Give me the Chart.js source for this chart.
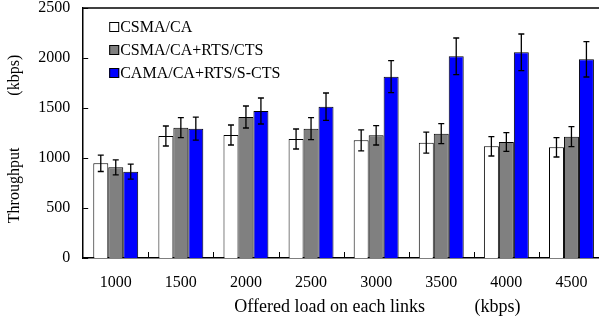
<!DOCTYPE html>
<html>
<head>
<meta charset="utf-8">
<script src="https://cdn.jsdelivr.net/npm/chart.js@4.4.0/dist/chart.umd.min.js"></script>
<style>
    html, body { margin: 0; padding: 0; background: #fff; overflow: hidden; }
    #wrap { width: 604px; height: 320px; }
</style>
</head>
<body>
<div id="wrap"><canvas id="throughputChart"></canvas></div>
<script>
// Offered load (kbps)
const loads = ["1000", "1500", "2000", "2500", "3000", "3500", "4000", "4500"];

// Throughput (kbps) for each scheme
const csma = [947, 1220, 1230, 1190, 1177, 1153, 1117, 1107];
const csmaRts = [907, 1303, 1410, 1293, 1227, 1243, 1160, 1213];
const camaSCts = [863, 1293, 1470, 1513, 1813, 2017, 2057, 1987];

// Error bar half-heights
const csmaErr = [82, 100, 100, 100, 105, 105, 97, 97];
const csmaRtsErr = [75, 100, 110, 110, 97, 100, 93, 100];
const camaSCtsErr = [75, 115, 130, 137, 160, 183, 183, 177];

const yTicks = [0, 500, 1000, 1500, 2000, 2500];

const serif = "'Liberation Serif', 'Times New Roman', serif";

// Error bars, inner tick marks, top frame line, legend
const extrasPlugin = {
    id: "extras",
    afterDatasetsDraw(chart) {
        const ctx = chart.ctx;
        const area = chart.chartArea;
        const xs = chart.scales.x;
        const ys = chart.scales.y;

        ctx.save();
        ctx.strokeStyle = "#000";

        // error bars
        ctx.lineWidth = 1.3;
        chart.data.datasets.forEach((ds, i) => {
            const meta = chart.getDatasetMeta(i);
            meta.data.forEach((bar, j) => {
                const v = ds.data[j];
                const e = ds.errors[j];
                const top = ys.getPixelForValue(v + e);
                const bot = ys.getPixelForValue(v - e);
                ctx.beginPath();
                ctx.moveTo(bar.x, top);
                ctx.lineTo(bar.x, bot);
                ctx.moveTo(bar.x - 3, top);
                ctx.lineTo(bar.x + 3, top);
                ctx.moveTo(bar.x - 3, bot);
                ctx.lineTo(bar.x + 3, bot);
                ctx.stroke();
            });
        });

        // frame line on top
        ctx.lineWidth = 1.5;
        ctx.beginPath();
        ctx.moveTo(area.left, area.top);
        ctx.lineTo(area.right + 5, area.top);
        ctx.stroke();

        // inner ticks
        ctx.lineWidth = 1;
        yTicks.forEach(t => {
            const y = Math.round(ys.getPixelForValue(t)) + 0.5;
            ctx.beginPath();
            ctx.moveTo(area.left, y);
            ctx.lineTo(area.left + 5, y);
            ctx.stroke();
        });
        for (let i = 0; i < loads.length - 1; i++) {
            const x = Math.round((xs.getPixelForValue(i) + xs.getPixelForValue(i + 1)) / 2) + 0.5;
            ctx.beginPath();
            ctx.moveTo(x, area.bottom);
            ctx.lineTo(x, area.bottom - 6);
            ctx.stroke();
        }

        // legend
        ctx.font = "16px " + serif;
        ctx.textBaseline = "middle";
        chart.data.datasets.forEach((ds, i) => {
            const bx = area.left + 26;
            const cy = area.top + 19 + i * 23;
            ctx.fillStyle = ds.backgroundColor;
            ctx.fillRect(bx, cy - 5, 10, 10);
            ctx.strokeStyle = "#000";
            ctx.strokeRect(bx + 0.5, cy - 4.5, 9, 9);
            ctx.fillStyle = "#000";
            ctx.fillText(ds.label, bx + 11, cy + 1);
        });

        ctx.restore();
    }
};

const ctx = document.getElementById("throughputChart").getContext("2d");

new Chart(ctx, {
    type: "bar",
    data: {
        labels: loads,
        datasets: [
            {
                label: "CSMA/CA",
                data: csma,
                errors: csmaErr,
                backgroundColor: "#ffffff",
                borderColor: "#000000",
                borderWidth: 1
            },
            {
                label: "CSMA/CA+RTS/CTS",
                data: csmaRts,
                errors: csmaRtsErr,
                backgroundColor: "#808080",
                borderColor: "#000000",
                borderWidth: 1
            },
            {
                label: "CAMA/CA+RTS/S-CTS",
                data: camaSCts,
                errors: camaSCtsErr,
                backgroundColor: "#0000ff",
                borderColor: "#000000",
                borderWidth: 1
            }
        ]
    },
    plugins: [extrasPlugin],
    options: {
        responsive: true,
        maintainAspectRatio: false,
        animation: false,
        events: [],
        layout: {
            padding: { top: 0, right: 0, left: 4, bottom: 0 }
        },
        datasets: {
            bar: {
                categoryPercentage: 0.69,
                barPercentage: 1.0
            }
        },
        plugins: {
            legend: { display: false },
            tooltip: { enabled: false }
        },
        scales: {
            x: {
                grid: { display: false, drawTicks: false },
                border: { color: "#000", width: 1.5 },
                ticks: {
                    color: "#000",
                    font: { family: serif, size: 16 },
                    padding: 15
                },
                title: {
                    display: true,
                    text: "               Offered load on each links           (kbps)",
                    color: "#000",
                    font: { family: serif, size: 18 },
                    padding: { top: 4, bottom: 2 }
                },
                afterFit: axis => {
                    axis.height = 62;
                }
            },
            y: {
                min: 0,
                max: 2500,
                afterBuildTicks: axis => {
                    axis.ticks = yTicks.map(v => ({ value: v }));
                },
                afterFit: axis => {
                    axis.paddingTop = 8;
                },
                grid: { display: false, drawTicks: false },
                border: { color: "#000", width: 1.5 },
                ticks: {
                    color: "#000",
                    font: { family: serif, size: 16 },
                    padding: 13,
                    callback: value => String(value)
                },
                title: {
                    display: true,
                    text: "Throughput             (kbps)   ",
                    color: "#000",
                    font: { family: serif, size: 16 },
                    padding: { top: 1, bottom: 1 }
                }
            }
        }
    }
});
</script>
</body>
</html>
